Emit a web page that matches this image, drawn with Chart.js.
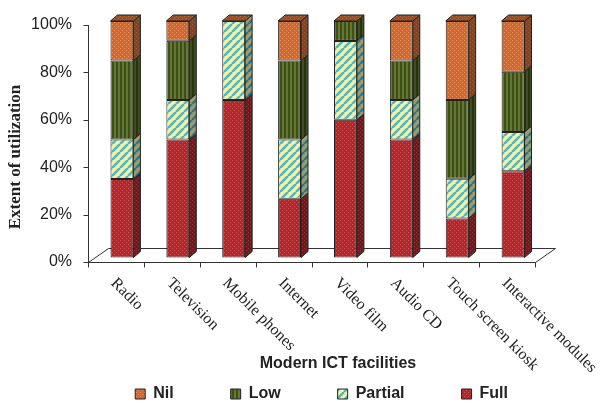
<!DOCTYPE html>
<html>
<head>
<meta charset="utf-8">
<script src="https://cdn.jsdelivr.net/npm/chart.js@4.4.0/dist/chart.umd.min.js"></script>
<style>
  html, body { margin: 0; padding: 0; background: #fff; }
</style>
</head>
<body>
<canvas id="chart" width="606" height="404"></canvas>
<script>
// Данные графика
const categories = [
  "Radio",
  "Television",
  "Mobile phones",
  "Internet",
  "Video film",
  "Audio CD",
  "Touch screen kiosk",
  "Interactive modules",
];
const fullValues = [33.3, 50, 66.7, 25, 58.3, 50, 16.7, 36.6];
const partialValues = [16.7, 16.7, 33.3, 25, 33.3, 16.7, 16.7, 16.6];
const lowValues = [33.3, 25, 0, 33.3, 8.4, 16.6, 33.3, 25.4];
const nilValues = [16.7, 8.3, 0, 16.7, 0, 16.7, 33.3, 21.4];
const yTicks = [0, 20, 40, 60, 80, 100];

// Текстуры заливки
function makePattern(size, paint) {
  const c = document.createElement("canvas");
  c.width = size;
  c.height = size;
  const g = c.getContext("2d");
  paint(g, size);
  return g.createPattern(c, "repeat");
}

const fullPattern = makePattern(4, (g) => {
  g.fillStyle = "#B3262C";
  g.fillRect(0, 0, 4, 4);
  g.fillStyle = "#CE5558";
  g.fillRect(0, 0, 1, 1);
  g.fillRect(2, 2, 1, 1);
});
const nilPattern = makePattern(4, (g) => {
  g.fillStyle = "#D2682F";
  g.fillRect(0, 0, 4, 4);
  g.fillStyle = "#E59461";
  g.fillRect(0, 0, 1, 1);
  g.fillRect(2, 2, 1, 1);
});
const lowPattern = makePattern(4, (g) => {
  g.fillStyle = "#64792F";
  g.fillRect(0, 0, 4, 4);
  g.fillStyle = "#3E4F1D";
  g.fillRect(0, 0, 2, 4);
});
const partialPattern = makePattern(8, (g, s) => {
  g.fillStyle = "#F4F2A6";
  g.fillRect(0, 0, s, s);
  g.strokeStyle = "#55B6C2";
  g.lineWidth = 2.6;
  g.beginPath();
  [-s, 0, s].forEach((k) => {
    g.moveTo(k, s);
    g.lineTo(k + s, 0);
  });
  g.stroke();
});

// Объемные грани, пол и подписи
const bar3d = {
  id: "bar3d",
  beforeDatasetsDraw(chart) {
    const { ctx, chartArea: a, scales } = chart;
    const y = scales.y;
    const fx = Math.round(a.left - 6) + 0.5;
    const fr = Math.round(a.right - 6) + 0.5;
    const fy = Math.round(y.getPixelForValue(0) + 4) + 0.5;
    ctx.save();
    ctx.strokeStyle = "#333";
    ctx.lineWidth = 1;
    ctx.beginPath();
    ctx.moveTo(fx, fy);
    ctx.lineTo(fx + 20, fy - 14);
    ctx.lineTo(fr + 20, fy - 14);
    ctx.lineTo(fr, fy);
    ctx.lineTo(fx, fy);
    ctx.moveTo(fx, fy);
    ctx.lineTo(fx, Math.round(y.getPixelForValue(100) + 4));
    yTicks.forEach((v) => {
      const py = Math.round(y.getPixelForValue(v) + 4) + 0.5;
      ctx.moveTo(fx - 5, py);
      ctx.lineTo(fx, py);
    });
    const step = a.width / categories.length;
    for (let i = 0; i <= categories.length; i++) {
      const px = Math.round(a.left - 6 + i * step) + 0.5;
      ctx.moveTo(px, fy);
      ctx.lineTo(px, fy + 5);
    }
    ctx.stroke();
    ctx.restore();
  },
  afterDatasetsDraw(chart) {
    const { ctx, scales } = chart;
    const dx = 7;
    const dy = 6;
    ctx.save();
    ctx.strokeStyle = "#222";
    ctx.lineWidth = 1;
    chart.data.datasets.forEach((ds, di) => {
      const meta = chart.getDatasetMeta(di);
      meta.data.forEach((bar) => {
        const p = bar.getProps(["x", "y", "base", "width"], true);
        const r = p.x + p.width / 2;
        if (p.base - p.y < 0.5) return;
        ctx.beginPath();
        ctx.moveTo(r, p.y);
        ctx.lineTo(r + dx, p.y - dy);
        ctx.lineTo(r + dx, p.base - dy);
        ctx.lineTo(r, p.base);
        ctx.closePath();
        ctx.fillStyle = ds.backgroundColor;
        ctx.fill();
        ctx.fillStyle = "rgba(0,0,0,0.35)";
        ctx.fill();
        ctx.stroke();
      });
    });
    // верхняя грань
    const topSet = chart.data.datasets.length - 1;
    chart.getDatasetMeta(topSet).data.forEach((bar) => {
      const p = bar.getProps(["x", "y", "width"], true);
      const l = p.x - p.width / 2;
      const r = p.x + p.width / 2;
      ctx.beginPath();
      ctx.moveTo(l, p.y);
      ctx.lineTo(l + dx, p.y - dy);
      ctx.lineTo(r + dx, p.y - dy);
      ctx.lineTo(r, p.y);
      ctx.closePath();
      ctx.fillStyle = nilPattern;
      ctx.fill();
      ctx.fillStyle = "rgba(0,0,0,0.25)";
      ctx.fill();
      ctx.stroke();
    });

    // подписи категорий
    const fy = scales.y.getPixelForValue(0) + 4;
    ctx.fillStyle = "#222";
    ctx.font = "16px 'Liberation Serif'";
    ctx.textAlign = "left";
    ctx.textBaseline = "top";
    categories.forEach((label, i) => {
      const px = scales.x.getPixelForValue(i) - 3;
      ctx.save();
      ctx.translate(px, fy + 13);
      ctx.rotate(Math.PI / 4);
      ctx.fillText(label, 0, 0);
      ctx.restore();
    });

    // названия осей
    ctx.textAlign = "center";
    ctx.textBaseline = "middle";
    ctx.font = "bold 16px 'Liberation Sans'";
    ctx.fillText("Modern ICT facilities", 338, 364);
    ctx.save();
    ctx.translate(16, 157);
    ctx.rotate(-Math.PI / 2);
    ctx.font = "bold 17px 'Liberation Serif'";
    ctx.fillText("Extent of utilization", 0, 0);
    ctx.restore();
    ctx.restore();
  },
};

const ctx = document.getElementById("chart").getContext("2d");

new Chart(ctx, {
  type: "bar",
  data: {
    labels: categories,
    datasets: [
      { label: "Full", data: fullValues, backgroundColor: fullPattern },
      { label: "Partial", data: partialValues, backgroundColor: partialPattern },
      { label: "Low", data: lowValues, backgroundColor: lowPattern },
      { label: "Nil", data: nilValues, backgroundColor: nilPattern },
    ].map((ds) => ({
      ...ds,
      borderColor: "#222",
      borderWidth: 1,
      borderSkipped: false,
      barPercentage: 0.41,
      categoryPercentage: 1,
    })),
  },
  options: {
    responsive: false,
    animation: false,
    layout: {
      padding: { top: 21, right: 41, left: 0, bottom: 0 },
    },
    scales: {
      x: {
        stacked: true,
        grid: { display: false },
        border: { display: false },
        ticks: { display: false },
        afterFit: (scale) => {
          scale.height = 71;
        },
      },
      y: {
        stacked: true,
        min: 0,
        max: 100,
        // прозрачные засечки дают отступ подписей
        grid: {
          display: true,
          color: "rgba(0,0,0,0)",
          drawTicks: true,
          tickLength: 22,
        },
        border: { display: false },
        ticks: {
          stepSize: 20,
          padding: 0,
          labelOffset: 4,
          color: "#222",
          font: { family: "'Liberation Sans'", size: 16 },
          callback: (v) => v + "%",
        },
        afterFit: (scale) => {
          scale.width = 94;
        },
      },
      // пустая ось справа, держит правый край области
      y2: {
        position: "right",
        grid: { display: false },
        border: { display: false },
        ticks: { display: false },
        afterFit: (scale) => {
          scale.width = 24;
        },
      },
    },
    plugins: {
      tooltip: { enabled: false },
      legend: {
        position: "bottom",
        align: "end",
        reverse: true,
        maxHeight: 75,
        labels: {
          boxWidth: 10,
          boxHeight: 10,
          padding: 57,
          color: "#222",
          font: { family: "'Liberation Sans'", size: 16, weight: "bold" },
        },
      },
    },
  },
  plugins: [bar3d],
});
</script>
</body>
</html>
